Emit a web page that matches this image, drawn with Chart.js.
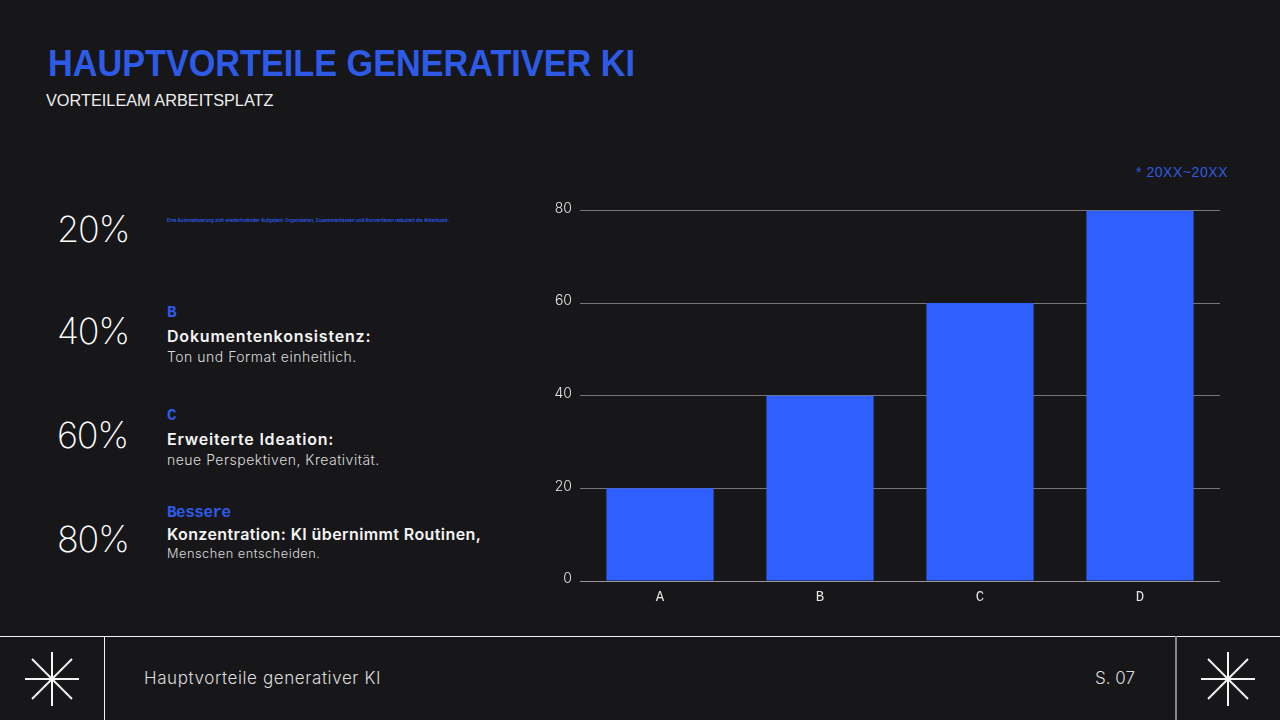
<!DOCTYPE html>
<html lang="de">
<head>
<meta charset="utf-8">
<title>Hauptvorteile generativer KI</title>
<script src="https://cdn.jsdelivr.net/npm/chart.js@4"></script>
<style>
  html, body { margin: 0; padding: 0; }
  body { width: 1280px; height: 720px; background: #17171a; overflow: hidden; position: relative; color: #fff; font-family: Inter, sans-serif; }
  .abs { position: absolute; white-space: nowrap; }
  #title { left: 48px; top: 41px; font: bold 37px/46px "Liberation Sans", sans-serif; color: #2d5be8; transform: scaleX(0.925); transform-origin: left; }
  #subtitle { left: 46px; top: 90px; font: 17px/22px "Liberation Sans", sans-serif; color: #eee; transform: scaleX(0.958); transform-origin: left; }
  #note { left: 1136px; top: 163px; font: 14px/18px "Liberation Sans", sans-serif; letter-spacing: 0.55px; color: #2f5be0; }
  .pct { left: 57px; font: 200 36px/44px Inter, sans-serif; letter-spacing: -1.2px; color: #fff; }
  .head { left: 167px; font: bold 16px/20px "Liberation Mono", monospace; letter-spacing: -0.5px; color: #2d5be8; }
  .bold { left: 167px; font: 600 16px/20px Inter, sans-serif; color: #f4f4f4; }
  .sub { left: 167px; font: 300 14px/18px Inter, sans-serif; letter-spacing: 0.5px; color: #ddd; }
  #tiny { left: 167px; top: 218px; font: 500 4.6px/6px Inter, sans-serif; color: #2f5fff; }
  #chartBox { position: absolute; left: 540px; top: 194px; width: 680px; height: 416px; }
  .rule { position: absolute; background: #f2f2f2; }
  #footLeft { left: 144px; top: 667px; font: 300 17px/22px Inter, sans-serif; letter-spacing: 0.6px; color: #ddd; }
  #footRight { left: 1095px; top: 667px; font: 300 17px/22px Inter, sans-serif; color: #ddd; }
  svg.star { position: absolute; top: 651px; width: 56px; height: 56px; }
  svg.star line { stroke: #f5f5f5; stroke-width: 2; }
</style>
</head>
<body>
<div class="abs" id="title">HAUPTVORTEILE GENERATIVER KI</div>
<div class="abs" id="subtitle">VORTEILEAM ARBEITSPLATZ</div>
<div class="abs" id="note">* 20XX~20XX</div>

<div class="abs" id="tiny">Eine Automatisierung sich wiederholender Aufgaben: Organisieren, Zusammenfassen und Konvertieren reduziert die Arbeitszeit.</div>
<div id="rows"></div>

<div id="chartBox"><canvas id="barChart"></canvas></div>

<div class="rule" style="left:0;top:636px;width:1280px;height:1px"></div>
<div class="rule" style="left:104px;top:636px;width:1px;height:84px"></div>
<div class="rule" style="left:1175px;top:636px;width:2px;height:84px;background:#888"></div>
<div class="abs" id="footLeft">Hauptvorteile generativer KI</div>
<div class="abs" id="footRight">S. 07</div>
<svg class="star" style="left:24px" viewBox="0 0 56 56"><line x1="28" y1="1" x2="28" y2="55"/><line x1="1" y1="28" x2="55" y2="28"/><line x1="8" y1="8" x2="48" y2="48"/><line x1="48" y1="8" x2="8" y2="48"/></svg>
<svg class="star" style="left:1200px" viewBox="0 0 56 56"><line x1="28" y1="1" x2="28" y2="55"/><line x1="1" y1="28" x2="55" y2="28"/><line x1="8" y1="8" x2="48" y2="48"/><line x1="48" y1="8" x2="8" y2="48"/></svg>

<script>
// Chart data
const categories = ['A', 'B', 'C', 'D'];
const values = [20, 40, 60, 80];
const yTicks = [0, 20, 40, 60, 80];

// Left column text
const percentLabels = ['20%', '40%', '60%', '80%'];
const rowHeads = ['', 'B', 'C', 'Bessere'];
const rowBolds = ['', 'Dokumentenkonsistenz:', 'Erweiterte Ideation:', 'Konzentration: KI übernimmt Routinen,'];
const rowSubs = ['', 'Ton und Format einheitlich.', 'neue Perspektiven, Kreativität.', 'Menschen entscheiden.'];

// Vertical position of each row on the slide
const pctTops = [207, 309, 413, 517];
const headTops = [0, 303, 406, 503];
const boldTops = [0, 326, 429, 524];
const subTops = [0, 348, 451, 545];
const boldSpacing = [0, 0.8, 0.8, 0.4];

const rows = document.getElementById('rows');
function addText(cls, top, text) {
  if (!text) return null;
  const div = document.createElement('div');
  div.className = 'abs ' + cls;
  div.style.top = top + 'px';
  div.textContent = text;
  rows.appendChild(div);
  return div;
}
percentLabels.forEach((label, i) => {
  addText('pct', pctTops[i], label);
  addText('head', headTops[i], rowHeads[i]);
  const bold = addText('bold', boldTops[i], rowBolds[i]);
  if (bold) bold.style.letterSpacing = boldSpacing[i] + 'px';
  const sub = addText('sub', subTops[i], rowSubs[i]);
  // last row is set a bit smaller in the slide
  if (sub && i === 3) sub.style.fontSize = '12.8px';
});

new Chart(document.getElementById('barChart').getContext('2d'), {
  type: 'bar',
  data: {
    labels: categories,
    datasets: [{
      data: values,
      backgroundColor: '#2f5fff',
      borderWidth: 0,
      categoryPercentage: 1,
      barPercentage: 0.67
    }]
  },
  options: {
    responsive: true,
    maintainAspectRatio: false,
    animation: false,
    layout: { padding: { top: 10 } },
    plugins: { legend: { display: false }, tooltip: { enabled: false } },
    scales: {
      x: {
        afterFit: scale => { scale.height = 29; },
        grid: { display: false, drawTicks: false },
        border: { color: '#999', width: 1 },
        ticks: { color: '#e6e6e6', padding: 8, font: { family: 'Liberation Mono', size: 14 } }
      },
      y: {
        min: 0,
        max: 80,
        afterFit: scale => { scale.width = 40; },
        afterBuildTicks: scale => { scale.ticks = yTicks.map(v => ({ value: v })); },
        grid: { color: '#777', lineWidth: 1, drawTicks: false },
        border: { display: false },
        ticks: { color: '#e6e6e6', padding: 8, labelOffset: -2, font: { family: 'Inter', size: 14, weight: '300' } }
      }
    }
  }
});
</script>
</body>
</html>
